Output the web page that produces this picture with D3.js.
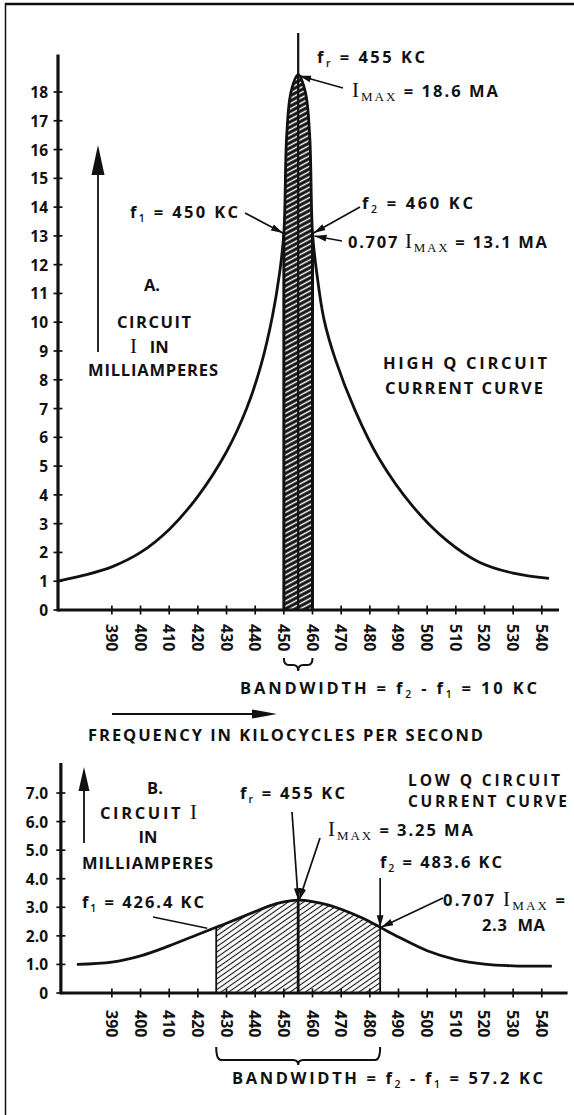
<!DOCTYPE html>
<html>
<head>
<meta charset="utf-8">
<script src="https://d3js.org/d3.v7.min.js"></script>
<style>
  body { margin: 0; background: #fff; }
  text { white-space: pre; fill: #111; }
</style>
</head>
<body>
<svg id="chart" width="574" height="1115"></svg>
<script>
// ---- data ---------------------------------------------------------------
// frequency tick labels (kilocycles)
const freqTicks = [390, 400, 410, 420, 430, 440, 450, 460, 470, 480, 490, 500, 510, 520, 530, 540];

// high Q circuit: current (mA) against frequency (kc)
const highQFreq    = [371.2, 380, 390, 400, 410, 420, 430, 437, 442, 446, 448.5, 450, 451, 452.5, 455, 457.5, 459, 460, 461.5, 464, 468, 475, 483, 495, 507, 518, 530, 542.5];
const highQCurrent = [1.0, 1.2, 1.5, 2.0, 2.8, 3.95, 5.5, 7.0, 8.5, 10.2, 11.7, 13.1, 16.5, 18.0, 18.6, 18.0, 16.5, 13.1, 11.7, 10.1, 8.7, 6.9, 5.3, 3.6, 2.4, 1.67, 1.28, 1.1];
const highQTicks   = [0, 1, 2, 3, 4, 5, 6, 7, 8, 9, 10, 11, 12, 13, 14, 15, 16, 17, 18];

// low Q circuit: current (mA) against frequency (kc)
const lowQFreq    = [377.8, 390, 400, 410, 420, 426.4, 430, 440, 445, 450, 455, 460, 465, 470, 477, 483.6, 490, 500, 510, 520, 530, 543.5];
const lowQCurrent = [1.0, 1.08, 1.3, 1.65, 2.05, 2.3, 2.44, 2.85, 3.05, 3.19, 3.25, 3.2, 3.09, 2.93, 2.64, 2.3, 1.96, 1.48, 1.17, 1.01, 0.95, 0.94];
const lowQTicks      = [0, 1, 2, 3, 4, 5, 6, 7];
const lowQTickLabels = ["0", "1.0", "2.0", "3.0", "4.0", "5.0", "6.0", "7.0"];

// resonance figures: [f_r, f_1, f_2] in kc and [I_max, 0.707 I_max] in mA
const highQPoints = [455, 450, 460];
const highQLevels = [18.6, 13.1];
const lowQPoints  = [455, 426.4, 483.6];
const lowQLevels  = [3.25, 2.3];

// axis extents in data units
const highQFreqExtent = [371.2, 546];
const lowQFreqExtent  = [372.2, 549];
const highQTop = 19.3;
const lowQTop  = 8.05;

// ---- setup --------------------------------------------------------------
const SANS  = "'Open Sans', Lato, 'DejaVu Sans', sans-serif";
const SERIF = "'Liberation Serif', 'DejaVu Serif', serif";
const svg = d3.select("#chart");

const x    = d3.scaleLinear().domain([371.2, 546]).range([58, 559]);
const yHi  = d3.scaleLinear().domain([0, 18]).range([610, 92]);
const yLo  = d3.scaleLinear().domain([0, 7]).range([993, 793]);
const smooth = d3.curveCatmullRom.alpha(0.5);

const defs = svg.append("defs");
defs.append("marker").attr("id", "head")
  .attr("viewBox", "0 -4 12 8").attr("refX", 12).attr("refY", 0)
  .attr("markerWidth", 12).attr("markerHeight", 8)
  .attr("markerUnits", "userSpaceOnUse").attr("orient", "auto")
  .append("path").attr("d", "M0,-3.4L12,0L0,3.4Z").attr("fill", "#111");

const hi = defs.append("pattern").attr("id", "hatchHi")
  .attr("patternUnits", "userSpaceOnUse").attr("width", 10).attr("height", 4.6)
  .attr("patternTransform", "rotate(-28)");
hi.append("rect").attr("width", 10).attr("height", 4.6).attr("fill", "#111");
hi.append("line").attr("x1", 0).attr("x2", 10).attr("y1", 2.3).attr("y2", 2.3)
  .attr("stroke", "#fff").attr("stroke-width", 1.5);

const lo = defs.append("pattern").attr("id", "hatchLo")
  .attr("patternUnits", "userSpaceOnUse").attr("width", 10).attr("height", 4.4)
  .attr("patternTransform", "rotate(-35)");
lo.append("rect").attr("width", 10).attr("height", 4.4).attr("fill", "#fff");
lo.append("line").attr("x1", 0).attr("x2", 10).attr("y1", 2.2).attr("y2", 2.2)
  .attr("stroke", "#111").attr("stroke-width", 1.1);

// frame
svg.append("line").attr("x1", 5).attr("x2", 574).attr("y1", 4).attr("y2", 4)
  .attr("stroke", "#111").attr("stroke-width", 2.5);
svg.append("line").attr("x1", 5.5).attr("x2", 5.5).attr("y1", 3).attr("y2", 1115)
  .attr("stroke", "#111").attr("stroke-width", 1.5);

// text with sub-scripts and serif "I"
function rich(x0, y0, parts, opts = {}) {
  const t = svg.append("text").attr("x", x0).attr("y", y0)
    .attr("font-family", SANS).attr("font-size", opts.size || 16.5).attr("font-weight", 700);
  let shift = 0;
  parts.forEach(p => {
    const [txt, kind] = Array.isArray(p) ? p : [p, "n"];
    const ts = t.append("tspan").text(txt);
    let target = 0;
    if (kind === "sub")  { ts.attr("font-size", 10.5).attr("font-weight", 600); target = 4; }
    if (kind === "I")    { ts.attr("font-family", SERIF).attr("font-weight", 400).attr("font-size", 21); }
    if (kind === "msub") { ts.attr("font-family", SERIF).attr("font-weight", 400).attr("font-size", 13); target = 4; }
    if (target !== shift) { ts.attr("dy", target - shift); shift = target; }
  });
  if (opts.len) t.attr("textLength", opts.len).attr("lengthAdjust", "spacing");
  if (opts.anchor) t.attr("text-anchor", opts.anchor);
  return t;
}

function arrow(x1, y1, x2, y2, head = true, w = 1.7) {
  const l = svg.append("line").attr("x1", x1).attr("y1", y1).attr("x2", x2).attr("y2", y2)
    .attr("stroke", "#111").attr("stroke-width", w);
  if (head) l.attr("marker-end", "url(#head)");
}

function bigArrow(x0, yFrom, yTip, len, half) {
  svg.append("line").attr("x1", x0).attr("x2", x0).attr("y1", yFrom).attr("y2", yTip + len - 2)
    .attr("stroke", "#111").attr("stroke-width", 1.8);
  svg.append("path").attr("d", `M${x0},${yTip}L${x0 - half},${yTip + len}L${x0 + half},${yTip + len}Z`).attr("fill", "#111");
}

function brace(x1, x2, yTop, h, tip) {
  const xm = (x1 + x2) / 2, r = 5;
  svg.append("path").attr("fill", "none").attr("stroke", "#111").attr("stroke-width", 2)
    .attr("d", `M${x1},${yTop} Q${x1},${yTop + h} ${x1 + r},${yTop + h} L${xm - r},${yTop + h} Q${xm},${yTop + h} ${xm},${yTop + h + tip} Q${xm},${yTop + h} ${xm + r},${yTop + h} L${x2 - r},${yTop + h} Q${x2},${yTop + h} ${x2},${yTop}`);
}

function frequencyAxis(yScale, extent, top, yTickLabelsStart) {
  const y0 = yScale(0);
  svg.append("line").attr("x1", x(extent[0])).attr("x2", x(extent[1]))
    .attr("y1", y0).attr("y2", y0).attr("stroke", "#111").attr("stroke-width", 2.8);
  svg.selectAll(null).data(freqTicks).enter().append("line")
    .attr("x1", d => x(d)).attr("x2", d => x(d))
    .attr("y1", y0 - 4.5).attr("y2", y0 + 4.5).attr("stroke", "#111").attr("stroke-width", 1.7);
  svg.selectAll(null).data(freqTicks).enter().append("text")
    .attr("transform", d => `translate(${x(d)},${yTickLabelsStart}) rotate(90)`)
    .attr("dominant-baseline", "central")
    .attr("font-family", SANS).attr("font-size", 16).attr("font-weight", 700)
    .text(d => d);
  svg.append("line").attr("x1", x(extent[0])).attr("x2", x(extent[0]))
    .attr("y1", yScale(top)).attr("y2", y0 + 1.4).attr("stroke", "#111").attr("stroke-width", 3.2);
}

// ---- A. high Q circuit -----------------------------------------------------
const hiPts = highQFreq.map((f, i) => ({ f, i: highQCurrent[i] }));
const lineHi = d3.line().x(d => x(d.f)).y(d => yHi(d.i)).curve(smooth);
const areaHi = d3.area().x(d => x(d.f)).y0(yHi(0)).y1(d => yHi(d.i)).curve(smooth);

defs.append("clipPath").attr("id", "bandHi").append("rect")
  .attr("x", x(highQPoints[1])).attr("width", x(highQPoints[2]) - x(highQPoints[1]))
  .attr("y", 0).attr("height", yHi(0));
svg.append("path").datum(hiPts).attr("d", areaHi).attr("fill", "url(#hatchHi)").attr("clip-path", "url(#bandHi)");

frequencyAxis(yHi, highQFreqExtent, highQTop, 624);

svg.selectAll(null).data(highQTicks).enter().append("line")
  .attr("x1", x(highQFreqExtent[0]) - 4.5).attr("x2", x(highQFreqExtent[0]) + 4.5)
  .attr("y1", d => yHi(d)).attr("y2", d => yHi(d)).attr("stroke", "#111").attr("stroke-width", 1.7);
svg.selectAll(null).data(highQTicks).enter().append("text")
  .attr("x", 48).attr("y", d => yHi(d)).attr("text-anchor", "end").attr("dominant-baseline", "central")
  .attr("font-family", SANS).attr("font-size", 15.5).attr("font-weight", 700).text(d => d);

// band edges and resonance line
[highQPoints[1], highQPoints[2]].forEach(f => {
  svg.append("line").attr("x1", x(f)).attr("x2", x(f)).attr("y1", yHi(0)).attr("y2", yHi(highQLevels[1]))
    .attr("stroke", "#111").attr("stroke-width", 3);
});
svg.append("line").attr("x1", x(highQPoints[0])).attr("x2", x(highQPoints[0]))
  .attr("y1", 33).attr("y2", yHi(0)).attr("stroke", "#111").attr("stroke-width", 2.2);
svg.append("path").datum(hiPts).attr("d", lineHi).attr("fill", "none")
  .attr("stroke", "#111").attr("stroke-width", 2.8);

// labels, high Q
bigArrow(98, 352, 145, 30, 6.5);
rich(152, 291, ["A."], { anchor: "middle" });
rich(154, 328, ["CIRCUIT"], { anchor: "middle", len: 74 });
rich(130, 353, [["I", "I"], "   IN"]);
rich(153, 376, ["MILLIAMPERES"], { anchor: "middle", len: 130 });
rich(383, 369, ["HIGH Q CIRCUIT"], { len: 164 });
rich(385, 394, ["CURRENT CURVE"], { len: 158 });

rich(317, 63, ["f", ["r", "sub"], " = 455 KC"], { len: 108 });
rich(352, 97, [["I", "I"], ["MAX", "msub"], " = 18.6 MA"], { len: 146 });
arrow(343, 88, x(highQPoints[0]) + 1, yHi(highQLevels[0]) + 1);

rich(130, 218, ["f", ["1", "sub"], " = 450 KC"], { len: 108 });
arrow(245, 213, x(highQPoints[1]) - 1, yHi(highQLevels[1]));
rich(362, 209, ["f", ["2", "sub"], " = 460 KC"], { len: 111 });
arrow(360, 207, x(highQPoints[2]) + 1, yHi(highQLevels[1]));
rich(348, 248, ["0.707 ", ["I", "I"], ["MAX", "msub"], " = 13.1 MA"], { len: 199 });
arrow(342, 241, x(highQPoints[2]) + 2, yHi(highQLevels[1]) + 3);

brace(x(highQPoints[1]), x(highQPoints[2]), 658, 7, 6);
rich(240, 694, ["BANDWIDTH = f", ["2", "sub"], " - f", ["1", "sub"], " = 10 KC"], { len: 297 });

// shared frequency caption
svg.append("line").attr("x1", 112).attr("x2", 254).attr("y1", 714).attr("y2", 714)
  .attr("stroke", "#111").attr("stroke-width", 2);
svg.append("path").attr("d", "M277,714L252,709.5L252,718.5Z").attr("fill", "#111");
rich(88, 741, ["FREQUENCY IN KILOCYCLES PER SECOND"], { len: 395 });

// ---- B. low Q circuit ------------------------------------------------------
const loPts = lowQFreq.map((f, i) => ({ f, i: lowQCurrent[i] }));
const lineLo = d3.line().x(d => x(d.f)).y(d => yLo(d.i)).curve(smooth);
const areaLo = d3.area().x(d => x(d.f)).y0(yLo(0)).y1(d => yLo(d.i)).curve(smooth);

defs.append("clipPath").attr("id", "bandLo").append("rect")
  .attr("x", x(lowQPoints[1])).attr("width", x(lowQPoints[2]) - x(lowQPoints[1]))
  .attr("y", 700).attr("height", yLo(0) - 700);
svg.append("path").datum(loPts).attr("d", areaLo).attr("fill", "url(#hatchLo)").attr("clip-path", "url(#bandLo)");

frequencyAxis(yLo, lowQFreqExtent, lowQTop, 1010);

svg.selectAll(null).data(lowQTicks).enter().append("line")
  .attr("x1", x(lowQFreqExtent[0]) - 4.5).attr("x2", x(lowQFreqExtent[0]) + 4.5)
  .attr("y1", d => yLo(d)).attr("y2", d => yLo(d)).attr("stroke", "#111").attr("stroke-width", 1.7);
svg.selectAll(null).data(lowQTicks).enter().append("text")
  .attr("x", 48).attr("y", d => yLo(d)).attr("text-anchor", "end").attr("dominant-baseline", "central")
  .attr("font-family", SANS).attr("font-size", 15.5).attr("font-weight", 700).text((d, i) => lowQTickLabels[i]);

[lowQPoints[1], lowQPoints[2]].forEach(f => {
  svg.append("line").attr("x1", x(f)).attr("x2", x(f)).attr("y1", yLo(0)).attr("y2", yLo(lowQLevels[1]))
    .attr("stroke", "#111").attr("stroke-width", 1.8);
});
svg.append("line").attr("x1", x(lowQPoints[0])).attr("x2", x(lowQPoints[0]))
  .attr("y1", yLo(0)).attr("y2", yLo(lowQLevels[0])).attr("stroke", "#111").attr("stroke-width", 2.8);
svg.append("path").datum(loPts).attr("d", lineLo).attr("fill", "none")
  .attr("stroke", "#111").attr("stroke-width", 2.8);

// labels, low Q
bigArrow(84, 843, 767, 24, 5.5);
rich(155, 794, ["B."], { anchor: "middle" });
rich(100, 819, ["CIRCUIT ", ["I", "I"]], { len: 97 });
rich(148, 843, ["IN"], { anchor: "middle" });
rich(82, 869, ["MILLIAMPERES"], { len: 131 });
rich(408, 786, ["LOW Q CIRCUIT"], { len: 152, size: 15.5 });
rich(408, 807, ["CURRENT CURVE"], { len: 159, size: 15.5 });

rich(240, 799, ["f", ["r", "sub"], " = 455 KC"], { len: 105 });
arrow(292, 812, x(lowQPoints[0]), yLo(lowQLevels[0]));
rich(328, 836, [["I", "I"], ["MAX", "msub"], " = 3.25 MA"], { len: 145 });
arrow(320, 838, x(lowQPoints[0]) + 1, yLo(lowQLevels[0]));

rich(82, 908, ["f", ["1", "sub"], " = 426.4 KC"], { len: 122 });
arrow(153, 917, x(lowQPoints[1]) - 9, yLo(lowQLevels[1]) + 1, false, 1.5);

rich(380, 868, ["f", ["2", "sub"], " = 483.6 KC"], { len: 122 });
arrow(x(lowQPoints[2]), 878, x(lowQPoints[2]), yLo(lowQLevels[1]));
rich(443, 906, ["0.707 ", ["I", "I"], ["MAX", "msub"], " ="], { len: 122 });
rich(482, 931, ["2.3  MA"], { len: 63 });
arrow(443, 898, x(lowQPoints[2]) + 1, yLo(lowQLevels[1]));

brace(x(lowQPoints[1]), x(lowQPoints[2]), 1047, 13, 5);
rich(232, 1084, ["BANDWIDTH = f", ["2", "sub"], " - f", ["1", "sub"], " = 57.2 KC"], { len: 311 });
</script>
</body>
</html>
